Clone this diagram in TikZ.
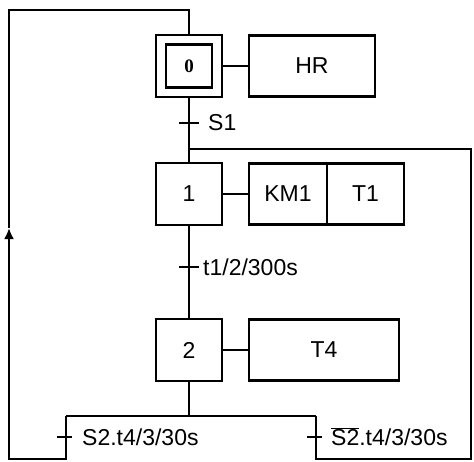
\documentclass[tikz,border=0pt]{standalone}
\usepackage{fontspec}
\setmainfont{Liberation Sans}
\newfontfamily\zerofont{Liberation Serif}
\usetikzlibrary{arrows.meta}

\tikzset{
  lien/.style={line width=2.6pt},
  etape/.style={draw, line width=2.6pt, minimum width=66pt, minimum height=62pt,
    inner sep=0pt, outer sep=0pt, font=\fontsize{23}{26}\selectfont},
  action/.style={draw, line width=2.6pt, minimum height=61pt,
    inner sep=0pt, outer sep=0pt, font=\fontsize{23}{26}\selectfont},
  recep/.style={anchor=west, inner sep=0pt, font=\fontsize{23}{26}\selectfont},
}

\begin{document}
\begin{tikzpicture}[x=1pt,y=-1pt]
    \useasboundingbox (0,0) rectangle (474,461);

    % Etapes
    \node[etape] (e0) at (189,66) {};
    \node[etape, minimum width=46pt, minimum height=43pt,
          font=\fontsize{19}{19}\selectfont\zerofont\bfseries] (e0i) at (189,66) {0};
    \node[etape] (e1) at (189,194) {1};
    \node[etape] (e2) at (189,350) {2};

    % Actions
    \node[action, minimum width=126pt] (hr) at (312,66) {HR};
    \node[action, minimum width=78pt] (km1) at (288,194) {KM1};
    \node[action, minimum width=77pt] (t1) at (365.5,194) {T1};
    \node[action, minimum width=150pt] (t4) at (324,350) {T4};

    \draw[lien] (e0.east) -- (hr.west);
    \draw[lien] (e1.east) -- (km1.west);
    \draw[lien] (e2.east) -- (t4.west);

    % Coordonnees des transitions
    \coordinate (s1) at (189,123);
    \coordinate (jonc) at (189,149);
    \coordinate (tt1) at (189,267);
    \coordinate (div) at (189,416);
    \coordinate (gauche) at (66,416);
    \coordinate (droite) at (316,416);
    \coordinate (tg) at (66,437);
    \coordinate (td) at (316,437);
    \coordinate (fleche) at (9,228);

    % Liaisons verticales
    \draw[lien] (e0.south) -- (e1.north);
    \draw[lien] (e1.south) -- (e2.north);
    \draw[lien] (e2.south) -- (div);
    \draw[lien] (gauche) -- (droite);

    % Retour vers l'etape 0
    \draw[lien, -{Latex[length=11pt,width=10pt]}] (gauche) -- (66,459) -- (9,459) -- (fleche);
    \draw[lien] (fleche) -- (9,10) -| (e0.north);

    % Retour vers l'etape 1
    \draw[lien] (droite) -- (316,459) -| (471,149) -- (jonc);

    % Receptivites
    \draw[lien] ([xshift=-10pt]s1) -- ([xshift=10pt]s1);
    \node[recep] (r1) at (208,123) {S1};
    \draw[lien] ([xshift=-10pt]tt1) -- ([xshift=10pt]tt1);
    \node[recep] (r2) at (203,267) {t1/2/300s};
    \draw[lien] ([xshift=-9pt]tg) -- ([xshift=6pt]tg);
    \node[recep] (r3) at (82,437) {S2.t4/3/30s};
    \draw[lien] ([xshift=-9pt]td) -- ([xshift=6pt]td);
    \node[recep] (r4) at (331,437) {$\overline{\mbox{S2}}$.t4/3/30s};
\end{tikzpicture}
\end{document}
